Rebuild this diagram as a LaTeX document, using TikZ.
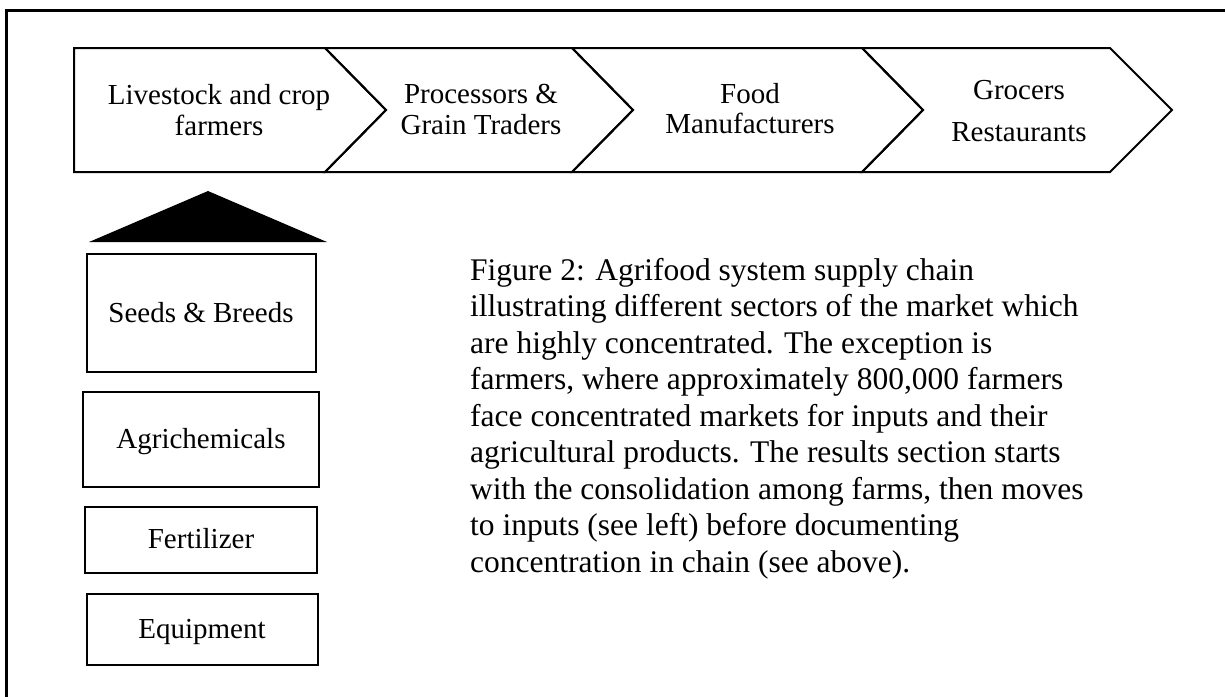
\documentclass[tikz,border=0pt]{standalone}
\usepackage{fontspec}
\setmainfont{Liberation Serif}
\begin{document}
\begin{tikzpicture}[x=1pt,y=-1pt,
  shapeline/.style={draw=black,line width=2pt,line join=miter},
  ctext/.style={anchor=base,inner sep=0pt,font=\fontsize{29}{31}\selectfont},
  inbox/.style={draw=black,line width=2pt,inner sep=0pt,minimum width=#1},
  btext/.style={anchor=base,inner sep=0pt,font=\fontsize{29}{31}\selectfont},
  captext/.style={anchor=base west,inner sep=0pt,font=\fontsize{31.5}{36.5}\selectfont}
]
\useasboundingbox (0,0) rectangle (1225,696);
\fill[white] (0,0) rectangle (1225,696);
% outer frame
\draw[line width=3pt,line join=miter] (6.5,700) -- (6.5,10.5) -- (1230,10.5);
% chevrons
\draw[shapeline] (74,48) -- (325,48) -- (386,110) -- (325,172) -- (74,172) -- cycle;
\draw[shapeline] (325,48) -- (572,48) -- (633,110) -- (572,172) -- (325,172) -- (386,110) -- cycle;
\draw[shapeline] (572,48) -- (862,48) -- (923,110) -- (862,172) -- (572,172) -- (633,110) -- cycle;
\draw[shapeline] (862,48) -- (1110,48) -- (1172,110) -- (1110,172) -- (862,172) -- (923,110) -- cycle;
\node[ctext] (farmers) at (219,104) {\begin{tabular}[t]{@{}c@{}}Livestock and crop\\farmers\end{tabular}};
\node[ctext] (processors) at (481,103) {\begin{tabular}[t]{@{}c@{}}Processors \&\\Grain Traders\end{tabular}};
\node[ctext,font=\fontsize{29}{30}\selectfont] (food) at (750,103) {\begin{tabular}[t]{@{}c@{}}Food\\Manufacturers\end{tabular}};
\node[ctext,font=\fontsize{29}{42}\selectfont] (grocers) at (1019,99) {\begin{tabular}[t]{@{}c@{}}Grocers\\Restaurants\end{tabular}};
% triangle
\fill[black] (89,242) -- (208,191) -- (327,242) -- cycle;
% input boxes
\node[inbox=229pt,minimum height=118pt] (seeds) at (201.5,313) {};
\node[inbox=236pt,minimum height=95pt] (agri) at (201,439.5) {};
\node[inbox=232pt,minimum height=66pt] (fert) at (201,540) {};
\node[inbox=231pt,minimum height=71pt] (equip) at (202.5,629.5) {};
\node[btext] (seedst) at (201,322) {Seeds \& Breeds};
\node[btext] (agrit) at (201,448) {Agrichemicals};
\node[btext] (fertt) at (201,548) {Fertilizer};
\node[btext] (equipt) at (202,638) {Equipment};
% caption
\node[captext] (caption) at (470,280) {\begin{tabular}[t]{@{}l@{}}Figure 2: Agrifood system supply chain\\
illustrating different sectors of the market which\\
are highly concentrated. The exception is\\
farmers, where approximately 800,000 farmers\\
face concentrated markets for inputs and their\\
agricultural products. The results section starts\\
with the consolidation among farms, then moves\\
to inputs (see left) before documenting\\
concentration in chain (see above).\end{tabular}};
\end{tikzpicture}
\end{document}
